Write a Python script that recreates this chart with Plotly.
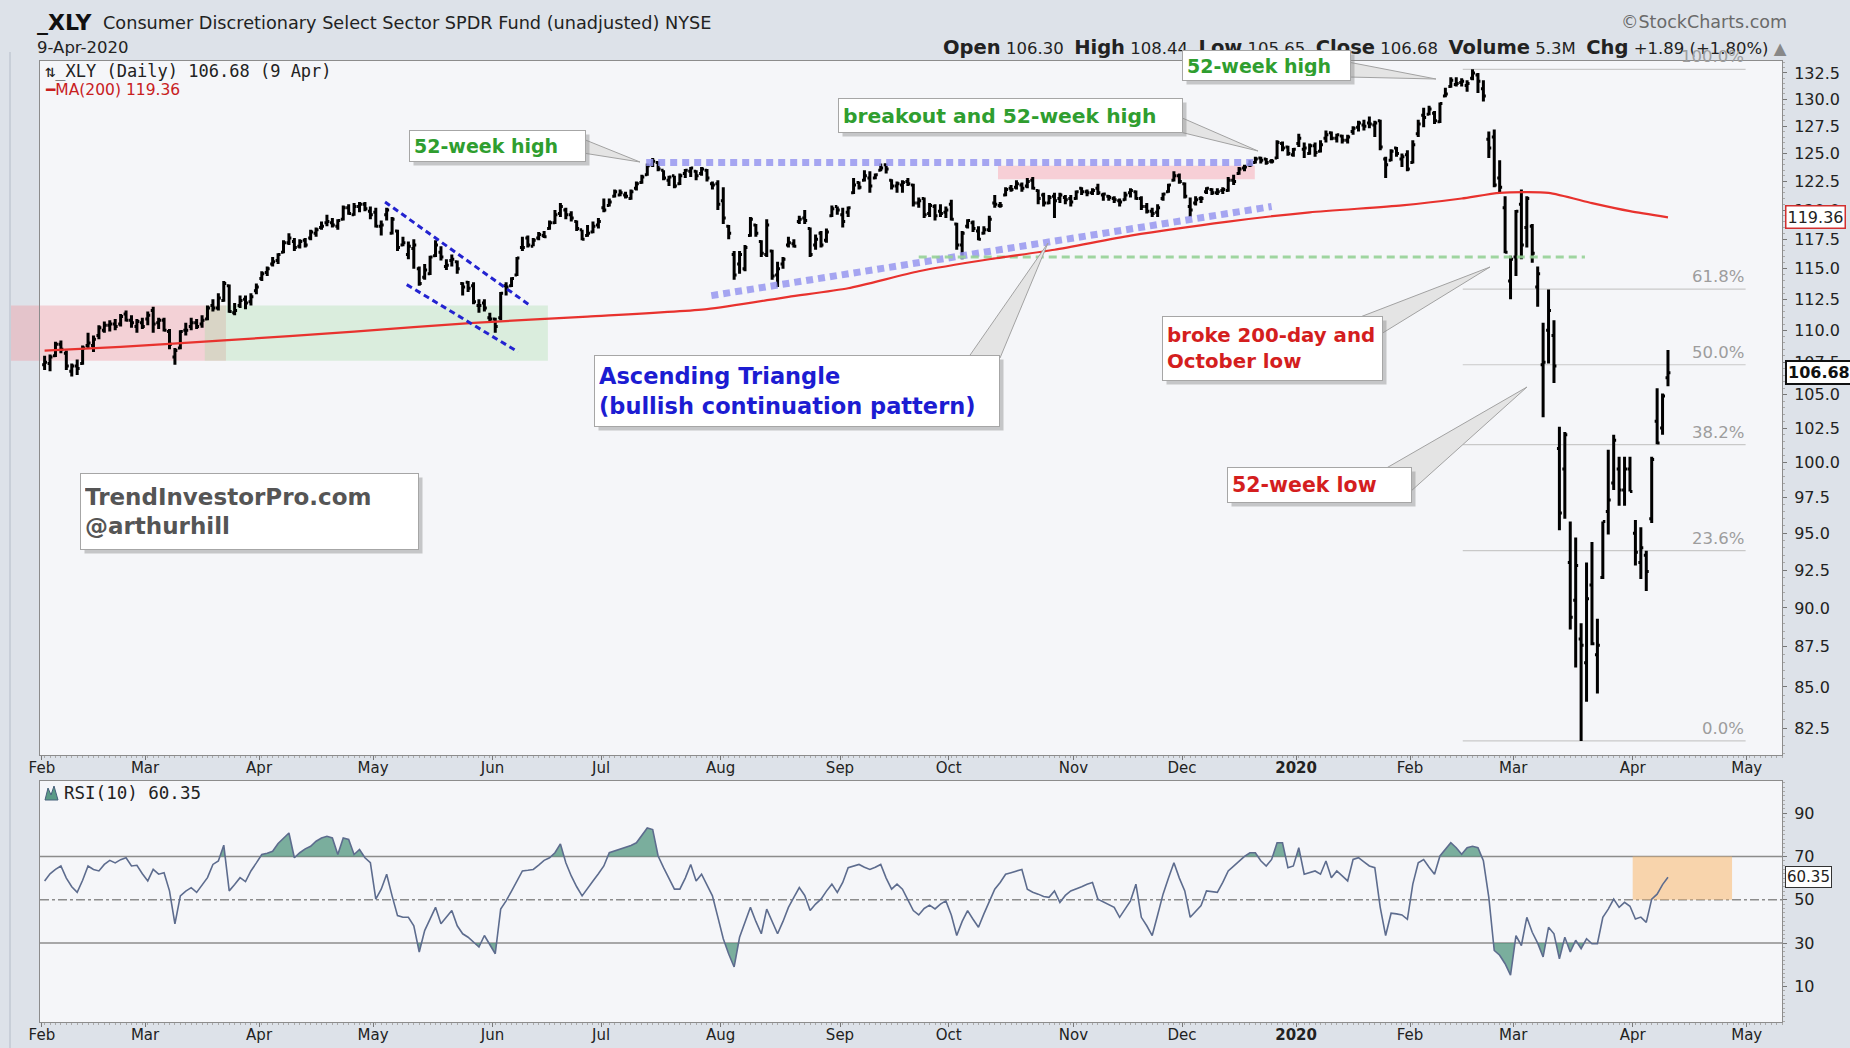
import math
import pandas as pd
import plotly.graph_objects as go

W, H = 1850, 1048

# ---------------- trading calendar (x categories) ----------------
holidays = ["2019-02-18", "2019-04-19", "2019-05-27", "2019-07-04", "2019-09-02",
            "2019-11-28", "2019-12-25", "2020-01-01", "2020-01-20", "2020-02-17",
            "2020-04-10", "2020-05-25"]
cal = pd.bdate_range("2019-02-01", "2020-05-29")
cal = cal[~cal.isin(pd.to_datetime(holidays))]

# ---------------- price data ----------------
opens = [
 107.3,107.4,108.0,108.9,108.2,106.8,107.2,107.4,108.8,108.8,109.6,110.0,110.4,110.5,110.5,111.3,110.8,110.3,110.6,
 110.9,111.6,110.6,110.8,109.9,107.9,108.6,110.0,110.3,110.6,110.5,110.9,112.0,111.8,112.4,113.6,111.4,112.0,112.5,112.3,113.2,
 114.2,114.7,115.4,115.7,116.4,117.2,117.3,116.9,117.4,117.6,118.0,118.5,118.9,118.9,118.6,119.2,120.2,119.6,120.3,120.5,119.9,
 119.8,118.6,119.6,118.0,118.2,117.0,116.2,116.7,115.0,114.3,114.6,116.1,116.4,115.2,115.7,115.6,113.8,113.9,113.6,112.0,112.2,111.0,
 110.9,111.0,113.6,113.6,114.5,116.8,117.6,116.9,117.6,117.8,118.4,118.9,119.7,120.0,119.6,119.0,118.3,117.8,118.1,118.7,
 120.2,120.4,121.2,121.3,121.3,121.0,121.9,122.4,123.1,124.0,124.2,123.5,122.6,123.0,122.3,123.2,123.4,123.4,123.2,123.5,122.3,122.3,
 120.8,118.6,116.2,115.4,115.0,117.8,118.7,117.3,116.2,116.5,114.5,115.4,117.0,117.1,119.0,119.3,118.4,117.0,118.0,117.4,119.5,120.3,
 119.6,119.8,121.5,122.4,122.6,122.8,122.8,123.5,124.0,122.6,122.1,122.2,122.5,122.2,120.6,121.0,119.7,120.3,119.9,119.8,
 120.5,118.8,117.0,118.6,118.9,118.2,118.0,118.3,120.6,120.4,121.3,121.9,122.0,122.2,122.1,122.6,121.7,121.3,120.6,121.2,121.0,121.1,121.0,
 121.0,121.9,121.6,121.5,121.9,121.3,121.2,121.0,120.8,120.9,121.5,121.6,121.0,120.3,119.9,119.8,121.0,121.6,122.6,123.0,
 122.3,120.3,120.6,121.0,121.6,121.8,121.5,121.7,121.7,122.6,123.2,123.7,124.0,124.2,124.6,124.5,124.3,124.6,125.9,125.6,124.9,
 125.9,125.4,125.0,125.7,125.2,126.4,126.9,126.4,126.6,126.2,127.0,127.4,127.6,127.8,127.6,128.0,124.5,124.4,125.5,124.5,124.9,
 124.2,126.8,128.5,128.6,128.7,127.9,130.3,131.2,131.4,131.6,131.3,132.0,132.3,131.0,126.3,126.5,122.8,120.2,114.0,
 116.0,120.5,118.5,118.6,113.5,107.3,110.0,109.6,101.0,99.5,93.0,90.5,88.0,86.5,91.5,87.0,92.0,96.5,98.5,99.5,98.0,99.5,
 95.0,93.0,93.5,96.0,103.0,102.5,106.30]
highs = [
 108.0,108.1,109.1,109.2,108.4,107.4,107.7,108.8,109.8,109.6,110.4,110.7,110.8,110.9,111.3,111.6,111.2,110.9,111.0,
 111.5,111.9,111.0,111.0,110.1,108.6,110.0,110.6,111.0,110.9,111.2,112.0,112.5,113.0,114.0,113.7,112.2,112.8,112.8,113.0,113.8,
 114.8,115.2,116.0,116.3,117.4,118.0,117.6,117.5,117.6,118.3,118.5,119.0,119.6,119.3,119.2,120.4,120.5,120.6,120.7,120.7,120.3,
 120.2,119.1,120.2,119.4,118.3,117.7,117.3,117.5,115.2,115.4,116.1,117.4,116.9,115.8,116.2,115.7,113.9,114.0,113.9,112.5,112.5,111.4,
 111.0,113.1,113.9,114.3,116.0,117.7,117.8,117.6,118.1,118.2,119.1,120.0,120.6,120.2,119.9,119.1,118.3,118.7,119.0,119.3,
 121.0,121.0,121.8,121.8,121.6,121.8,122.5,123.1,124.1,124.6,124.3,123.5,123.0,123.0,123.2,123.6,123.8,123.5,123.8,123.6,122.5,122.6,
 122.0,118.7,116.5,116.5,117.0,119.4,118.8,117.4,119.2,116.6,115.6,116.0,117.7,117.5,119.5,120.0,118.5,117.9,118.2,118.4,120.4,120.3,
 120.2,120.3,122.8,122.5,123.5,123.4,123.2,124.1,124.1,122.7,122.5,122.6,122.8,122.3,121.1,121.1,120.6,120.5,120.5,120.3,
 120.9,118.9,118.2,119.2,119.1,118.6,118.6,119.5,121.3,120.7,122.0,122.2,122.6,122.4,122.8,122.9,121.8,121.5,121.3,121.5,121.5,121.3,121.3,
 121.7,122.0,121.8,121.9,122.3,121.5,121.3,121.2,121.0,121.6,121.9,121.7,121.2,120.6,120.2,120.5,121.5,122.3,123.4,123.2,
 122.4,121.1,121.2,121.2,122.0,121.9,121.9,122.0,122.9,123.1,123.8,124.0,124.4,124.7,124.7,124.6,124.5,126.2,126.1,125.7,125.5,
 126.8,126.0,125.9,126.0,126.2,127.1,127.0,126.8,126.7,126.7,127.5,128.0,128.1,128.4,128.0,128.1,124.7,125.4,125.6,125.0,125.3,
 126.2,128.1,129.2,129.4,128.9,129.7,131.1,132.1,132.1,132.0,131.8,132.85,132.5,131.8,127.0,127.2,124.4,121.2,116.1,
 120.0,121.8,121.2,118.8,115.2,110.6,113.3,110.8,102.6,102.2,95.8,94.7,89.0,93.0,94.4,89.3,95.8,100.9,102.0,100.4,100.4,100.4,
 95.9,95.4,93.8,100.4,105.5,105.1,108.44]
lows = [
 106.9,106.8,107.9,108.2,106.9,106.4,106.5,107.3,108.6,108.3,109.3,109.8,109.9,110.0,110.3,110.7,110.2,109.8,110.1,
 110.4,109.8,110.1,109.9,108.5,107.3,108.5,109.6,110.0,110.1,110.2,110.8,111.5,111.6,112.3,111.4,111.2,111.8,111.7,112.0,112.9,
 114.0,114.4,115.2,115.4,116.3,117.0,116.5,116.7,116.8,117.4,117.7,118.3,118.6,118.5,118.3,119.1,119.6,119.5,119.8,119.9,119.2,
 118.5,117.8,119.1,117.9,116.5,116.9,115.8,115.0,113.6,114.1,114.5,116.0,115.7,114.9,115.2,114.6,112.8,113.1,112.1,111.4,111.5,110.7,
 109.8,110.8,112.8,113.5,114.4,116.5,116.8,116.9,117.4,117.6,118.3,118.8,119.4,119.2,119.0,118.2,117.4,117.7,118.0,118.4,
 119.8,120.3,121.1,121.2,121.0,120.9,121.7,122.3,123.0,123.8,123.4,122.6,122.1,121.9,122.2,122.8,122.9,122.6,123.0,122.5,121.8,120.0,
 118.8,117.5,114.1,114.6,114.8,117.7,117.7,116.0,116.0,114.1,113.5,115.0,116.8,116.8,118.8,118.8,116.0,116.6,116.8,117.2,119.4,119.6,
 118.5,119.4,121.4,121.8,122.5,121.5,122.7,123.4,123.2,121.8,121.5,121.5,122.1,120.3,120.2,119.3,119.4,119.1,119.4,119.3,
 119.1,116.6,115.8,118.4,118.1,117.4,117.9,118.1,120.2,120.2,121.2,121.6,121.8,121.6,121.9,121.8,120.5,120.3,120.5,119.3,120.6,120.5,120.3,
 120.9,121.3,121.2,121.3,121.3,120.8,120.8,120.6,120.3,120.8,121.1,120.9,120.0,119.7,119.4,119.4,120.8,121.5,122.5,122.3,
 121.0,119.4,120.4,120.6,121.4,121.3,121.3,121.4,121.6,122.2,123.1,123.4,123.8,124.1,124.1,124.0,124.1,124.5,125.2,124.8,124.7,
 125.6,124.6,124.9,124.7,125.1,126.0,126.2,126.0,125.9,125.9,126.7,127.0,127.1,127.3,126.5,125.3,122.8,124.3,124.7,123.8,123.4,
 124.1,126.5,127.4,128.5,127.7,127.8,130.2,131.1,131.2,131.2,130.7,131.8,130.6,129.8,124.6,122.0,121.5,116.3,112.5,
 114.4,115.8,116.8,115.5,111.9,103.3,107.4,105.9,95.2,96.0,88.6,86.2,81.75,84.1,87.6,84.6,91.9,94.9,98.0,96.9,96.9,97.9,
 92.8,91.9,91.1,95.7,101.3,102.0,105.65]
closes = [
 107.5,107.9,108.9,108.5,107.2,107.2,107.0,108.6,109.0,109.3,110.2,110.4,110.5,110.3,111.1,110.8,110.6,110.7,110.3,
 111.2,110.5,110.8,110.0,108.9,108.4,109.9,110.0,110.6,110.3,110.8,111.8,111.8,112.6,113.8,111.5,111.6,112.4,112.2,112.7,113.5,
 114.6,115.0,115.6,116.2,117.2,117.6,116.8,117.3,117.0,118.1,118.3,118.6,119.0,118.7,119.1,120.2,119.7,120.3,120.5,120.1,119.6,
 118.6,118.7,120.0,119.2,116.8,117.2,116.9,117.0,113.8,114.9,116.0,117.0,116.0,115.3,115.8,115.0,113.5,113.4,112.3,112.0,111.8,110.9,
 110.3,113.0,113.5,114.2,115.9,116.8,117.0,117.4,117.9,117.7,118.9,119.6,120.3,119.6,119.3,118.4,117.5,118.0,118.6,119.0,
 120.0,120.7,121.6,121.5,121.2,121.6,122.3,122.9,123.9,124.3,123.6,122.8,122.9,122.1,123.0,123.5,123.7,123.0,123.6,122.8,122.2,120.5,
 119.3,118.0,114.5,116.2,116.8,119.2,118.0,116.3,118.7,114.4,115.0,115.8,117.2,116.9,119.2,119.1,116.2,117.5,117.0,118.1,120.1,120.0,
 119.0,120.2,122.2,122.0,123.0,122.1,123.1,123.7,123.6,122.1,122.3,122.4,122.3,120.6,120.8,119.6,120.4,119.5,119.7,120.0,
 119.2,117.0,118.0,119.1,118.4,117.5,118.3,119.2,120.5,120.4,121.8,121.8,122.3,121.9,122.5,121.9,121.0,120.6,121.1,120.8,121.3,120.9,120.7,
 121.6,121.6,121.5,121.7,121.5,121.4,121.1,120.9,120.7,121.3,121.7,121.0,120.3,119.9,119.7,120.2,121.4,122.2,123.0,122.5,
 121.2,120.0,120.9,121.0,121.9,121.5,121.6,121.8,122.6,122.5,123.6,123.8,124.0,124.5,124.4,124.2,124.3,126.0,125.5,125.0,125.4,
 126.4,125.5,125.7,125.1,125.8,126.7,126.4,126.7,126.2,126.5,127.3,127.8,127.5,127.7,127.8,125.6,124.0,125.2,125.0,124.7,123.6,
 125.8,127.7,128.3,129.1,128.0,129.6,130.5,131.8,131.5,131.7,131.5,132.5,131.7,130.3,125.5,122.2,122.0,116.4,115.8,
 119.9,117.0,121.0,116.3,114.6,107.5,111.6,107.2,96.4,102.0,89.4,92.8,87.6,90.6,87.7,87.6,95.8,97.3,101.6,98.0,99.5,97.9,
 93.7,94.0,92.4,100.2,101.4,104.9,106.68]

# 200-day moving average, read at selected bars
ma_idx = [0, 14, 33, 57, 79, 100, 122, 137, 148, 161, 174, 186, 200, 218, 233, 250, 261, 268, 277, 285, 292, 299]
ma_val = [108.4, 108.7, 109.2, 109.9, 110.6, 111.1, 111.7, 112.7, 113.4, 114.8, 115.8, 116.6,
          117.8, 119.0, 119.8, 120.4, 121.0, 121.5, 121.5, 120.6, 119.9, 119.36]

# RSI(10), one value per bar
rsi = [
 58.7,62,64,65.6,60,56,53.4,59,65.6,64, 63.3,66.3,68.2,67,68.5,69.4,65.6,65.9,62,58.7,
 64,61.8,62.5,54.1,38.9,51.8,54,55.6,53.4,57, 60.2,66.3,67.9,75.2,54.1,57,60.2,58.4,63.3,67,
 70.9,71.5,72.4,76,78.5,80.8,69.4,71.7,73.5,74.7, 77,78.5,79.3,78.5,70.9,78.5,77.8,70.9,73.2,69.4,
 67.1,50.3,54.9,61.8,51.8,42.7,41.9,41.9,38,25.9, 35.8,41,46.5,38.9,42,45,38,34.3,32.7,30.5,
 28.2,33.5,29,25.1,45.7,49.5,54,58.7,63.3,63.6, 64,66,68.2,69.4,71.7,75.8,67.1,61,56,51.8,
 55,58.7,62,65.6,71.7,72.5,73.3,74,75,76.3, 80,83.1,82.4,70.2,64.8,60,54.9,54.9,60,66.3,
 58.7,61.8,57,51.8,42,32,25,19,32.7,40, 46.5,40,34.3,45.7,40,34.3,40,46.5,51.1,55.6,
 52,45,48,50.3,54,57.2,53.4,58,64.8,65.5, 66.3,65,64,65,66.3,60,54.9,57.2,54.9,50,
 45,43,46,47.5,45.8,48,49.5,43,33.5,40, 45,41,37.3,43.5,49,54.9,58,61.8,62.5,63.3,
 64,54.9,53.5,52.6,51.5,51.1,54.1,48.8,52,54.1, 54.9,56,57.2,58,50.3,49,48,46.5,41.9,46,
 49.5,57.2,41.9,38,33.5,43,52.6,60,67.1,60, 54.1,41.9,44.5,47.3,54.1,53.7,53.4,58,63.3,65.5,
 67.9,70,71.7,71.7,68,65.6,68.6,76.3,76.3,64.8, 65.6,74,61.8,62.5,63.3,61.8,67.9,60.2,63.3,61,
 58.7,68.6,69.4,67.5,65.6,64.8,46.5,33.5,43.8,43.5, 43,41,57.2,67.1,68.6,65,61.8,70.2,73,76.3,
 74,71,74,74.7,74,68,51.1,26.6,24.4,20.5, 15.2,33.5,28.9,41.9,35,30,23.6,37.3,34.3,22.8,
 32.7,25.9,31.3,27.4,32,29.7,29.7,41.9,45.7,50.3, 46.5,48.8,47,41.1,42,39.6,50.3,52.6,57,60.35]

fib_high, fib_low = 132.85, 81.75
fib_pcts = [0.0, 23.6, 38.2, 50.0, 61.8, 100.0]

price_ticks = [82.5, 85.0, 87.5, 90.0, 92.5, 95.0, 97.5, 100.0, 102.5, 105.0, 107.5, 110.0,
               112.5, 115.0, 117.5, 120.0, 122.5, 125.0, 127.5, 130.0, 132.5]
rsi_ticks = [10, 30, 50, 70, 90]

n = len(closes)
idx = list(range(n))

# month ticks at month boundaries
tickvals, ticktext = [], []
prev = None
for k, d in enumerate(cal):
    key = (d.year, d.month)
    if key != prev:
        tickvals.append(k - 0.5)
        ticktext.append("<b>2020</b>" if (d.year == 2020 and d.month == 1) else d.strftime("%b"))
        prev = key

XR = [-0.85, 320.0]
XD = [40 / W, 1782 / W]
YD1 = [1 - 755 / H, 1 - 61 / H]
YD2 = [1 - 1022 / H, 1 - 781 / H]


def px(x):
    return x / W


def py(y):
    return 1 - y / H


FONT = "DejaVu Sans"
MONO = "DejaVu Sans Mono"
fig = go.Figure()

# ---------------- zones (shapes) ----------------
shapes = []
zone_lo, zone_hi = 107.6, 112.0
shapes.append(dict(type="rect", xref="x", yref="y", x0=XR[0], x1=33.4, y0=zone_lo, y1=zone_hi,
                   fillcolor="rgba(240,140,150,0.35)", line_width=0, layer="below"))
shapes.append(dict(type="rect", xref="paper", yref="y", x0=px(11), x1=px(40), y0=zone_lo, y1=zone_hi,
                   fillcolor="rgba(240,140,150,0.35)", line_width=0, layer="below"))
shapes.append(dict(type="rect", xref="x", yref="y", x0=29.5, x1=92.7, y0=zone_lo, y1=zone_hi,
                   fillcolor="rgba(170,220,170,0.35)", line_width=0, layer="below"))
shapes.append(dict(type="rect", xref="x", yref="y", x0=175.6, x1=222.9, y0=122.7, y1=123.9,
                   fillcolor="rgba(250,160,170,0.45)", line_width=0, layer="below"))
# fib lines
for p in fib_pcts:
    lvl = fib_low + p / 100 * (fib_high - fib_low)
    shapes.append(dict(type="line", xref="x", yref="y", x0=261.2, x1=313.3, y0=lvl, y1=lvl,
                       line=dict(color="#c9c9c9", width=1.2), layer="below"))
# RSI reference lines
for v, dash in [(70, "solid"), (30, "solid"), (50, "dashdot")]:
    shapes.append(dict(type="line", xref="x2", yref="y2", x0=XR[0], x1=XR[1], y0=v, y1=v,
                       line=dict(color="#8c8c8c", width=1.5, dash=dash), layer="below"))
# orange RSI box
shapes.append(dict(type="rect", xref="x2", yref="y2", x0=292.5, x1=310.8, y0=50, y1=70,
                   fillcolor="rgba(250,190,120,0.6)", line_width=0, layer="below"))
# left panel strip line
shapes.append(dict(type="line", xref="paper", yref="paper", x0=px(10), x1=px(10), y0=0, y1=py(52),
                   line=dict(color="#b4bcc8", width=1)))

# ---------------- traces ----------------
lavender = "rgba(150,150,240,0.85)"
fig.add_trace(go.Scatter(x=[110.8, 223], y=[124.2, 124.2], mode="lines",
                         line=dict(color=lavender, width=7, dash="7px,5px"), hoverinfo="skip"))
fig.add_trace(go.Scatter(x=[122.8, 226], y=[112.8, 120.3], mode="lines",
                         line=dict(color=lavender, width=7, dash="7px,5px"), hoverinfo="skip"))
fig.add_trace(go.Scatter(x=[161, 283.7], y=[116.0, 116.0], mode="lines",
                         line=dict(color="rgba(150,210,150,0.9)", width=3, dash="8px,5px"), hoverinfo="skip"))
fig.add_trace(go.Scatter(x=ma_idx, y=ma_val, mode="lines", line_shape="spline",
                         line=dict(color="#e8322e", width=2.2, smoothing=0.6), hoverinfo="skip"))
fig.add_trace(go.Scatter(x=[62.7, 89.4], y=[120.7, 112.0], mode="lines",
                         line=dict(color="#2323d0", width=3, dash="6px,4px"), hoverinfo="skip"))
fig.add_trace(go.Scatter(x=[66.7, 87.2], y=[113.7, 108.3], mode="lines",
                         line=dict(color="#2323d0", width=3, dash="6px,4px"), hoverinfo="skip"))

fig.add_trace(go.Ohlc(x=idx, open=opens, high=highs, low=lows, close=closes,
                      increasing_line_color="black", decreasing_line_color="black",
                      line=dict(width=3), tickwidth=0.45, hoverinfo="skip",
                      xaxis="x", yaxis="y"))


# RSI fills
def band_polys(xs, ys, thr, above=True):
    ox, oy = [], []
    cx, cy = [], []

    def inside(v):
        return v > thr if above else v < thr

    for k in range(len(xs)):
        x, y = xs[k], ys[k]
        if k > 0:
            x0, y0 = xs[k - 1], ys[k - 1]
            if inside(y0) != inside(y):
                t = (thr - y0) / (y - y0)
                xc = x0 + t * (x - x0)
                cx.append(xc)
                cy.append(thr)
                if not inside(y):
                    ox += cx + [None]
                    oy += cy + [None]
                    cx, cy = [], []
        if inside(y):
            if k == 0:
                cx.append(x)
                cy.append(thr)
            cx.append(x)
            cy.append(y)
    if cx:
        cx.append(xs[-1])
        cy.append(thr)
        ox += cx
        oy += cy
    return ox, oy


for thr, ab in [(70, True), (30, False)]:
    fx, fy = band_polys(idx, rsi, thr, ab)
    fig.add_trace(go.Scatter(x=fx, y=fy, mode="lines", fill="toself",
                             fillcolor="rgba(80,150,125,0.75)", line=dict(width=0),
                             hoverinfo="skip", xaxis="x2", yaxis="y2"))
fig.add_trace(go.Scatter(x=idx, y=rsi, mode="lines", line=dict(color="#5d6c8e", width=1.6),
                         hoverinfo="skip", xaxis="x2", yaxis="y2"))

# ---------------- annotations ----------------
ann = []


def text(x, y, s, size=14, color="#222", xanchor="left", yanchor="middle", family=FONT, **kw):
    d = dict(x=px(x), y=py(y), xref="paper", yref="paper", text=s, showarrow=False,
             xanchor=xanchor, yanchor=yanchor, font=dict(size=size, color=color, family=family))
    d.update(kw)
    ann.append(d)


text(35, 23, "<b>_XLY</b>", size=22, color="#111")
text(101, 23, "Consumer Discretionary Select Sector SPDR Fund (unadjusted) NYSE", size=17.7, color="#222")
text(35, 47, "9-Apr-2020", size=16.5, color="#222")
text(1789, 22, "©StockCharts.com", size=17.5, color="#6a6a6a", xanchor="right")
L = '<span style="font-size:19.5px"><b>%s</b></span>'
hdr = (L % "Open" + " 106.30  " + L % "High" + " 108.44  " + L % "Low" + " 105.65  " +
       L % "Close" + " 106.68  " + L % "Volume" + " 5.3M  " + L % "Chg" +
       ' +1.89 (+1.80%) <span style="color:#888">▲</span>')
text(1789, 47, hdr, size=16.5, color="#222", xanchor="right")

text(43, 71, "⇅_XLY (Daily) 106.68 (9 Apr)", size=17, color="#222", family=MONO)
text(43, 90, '<b>━</b>MA(200) 119.36', size=15.5, color="#c8201e")
text(62, 793, "RSI(10) 60.35", size=17.5, color="#222", family=MONO)
shapes.append(dict(type="path", xref="paper", yref="paper",
                   path=f"M {px(45)} {py(800)} L {px(48)} {py(788)} L {px(51)} {py(795)} L {px(54)} {py(786)} L {px(58)} {py(800)} Z",
                   fillcolor="#5a9a86", line=dict(color="#46607a", width=1)))

# fib labels
for p in fib_pcts:
    lvl = fib_low + p / 100 * (fib_high - fib_low)
    ann.append(dict(x=313.3, y=math.log10(lvl), xref="x", yref="y", text=f"{p:.1f}%", showarrow=False,
                    xanchor="right", yanchor="bottom", yshift=1,
                    font=dict(size=16.5, color="#9d9d9d", family=FONT)))

# callouts
wedges = [
    [(583, 139), (583, 153), (640, 162)],
    [(1180, 117), (1180, 132), (1258, 151)],
    [(1348, 62), (1348, 77), (1436, 79)],
    [(968, 358), (1000, 358), (1048, 243)],
    [(1355, 319), (1381, 334), (1490, 267)],
    [(1383, 470), (1410, 492), (1527, 387)],
]
for wpts in wedges:
    path = "M " + " L ".join(f"{px(a)} {py(b)}" for a, b in wpts) + " Z"
    shapes.append(dict(type="path", xref="paper", yref="paper", path=path,
                       fillcolor="#e4e4e4", line=dict(color="#a2a2a2", width=1), layer="above"))

boxes = [
    (409, 130, 586, 162, "<b>52-week high</b>", "#2f9e2f", 19),
    (838, 98, 1183, 133, "<b>breakout and 52-week high</b>", "#2f9e2f", 20.3),
    (1182, 50, 1351, 81, "<b>52-week high</b>", "#2f9e2f", 19),
    (594, 355, 1000, 427, "<b>Ascending Triangle<br>(bullish continuation pattern)</b>", "#1c1cd2", 22.5),
    (1162, 316, 1383, 381, "<b>broke 200-day and<br>October low</b>", "#d41e1e", 19.8),
    (1227, 467, 1412, 503, "<b>52-week low</b>", "#d41e1e", 20.5),
    (80, 473, 419, 550, "<b>TrendInvestorPro.com<br>@arthurhill</b>", "#555555", 23),
]
for x0, y0, x1, y1, s, c, fs in boxes:
    ann.append(dict(x=px(x0 + 4), y=py(y0 + 4), xref="paper", yref="paper", text=" ", showarrow=False,
                    xanchor="left", yanchor="top", width=x1 - x0 - 10, height=y1 - y0 - 10,
                    bgcolor="rgba(140,140,140,0.45)", borderpad=4, borderwidth=1,
                    bordercolor="rgba(0,0,0,0)"))
    ann.append(dict(x=px(x0), y=py(y0), xref="paper", yref="paper", text=s, showarrow=False,
                    xanchor="left", yanchor="top", width=x1 - x0 - 10, height=y1 - y0 - 10,
                    align="left", valign="middle", bgcolor="white", bordercolor="#a6a6a6",
                    borderwidth=1, borderpad=4, font=dict(size=fs, color=c, family=FONT)))

# value boxes
ann.append(dict(x=px(1785), y=math.log10(119.36), xref="paper", yref="y", text="119.36", showarrow=False,
                xanchor="left", yanchor="middle", bgcolor="white", bordercolor="#d23030", borderwidth=1.5,
                borderpad=1, font=dict(size=16, color="#222", family=FONT)))
ann.append(dict(x=px(1785), y=math.log10(106.68), xref="paper", yref="y", text="<b>106.68</b>", showarrow=False,
                xanchor="left", yanchor="middle", bgcolor="white", bordercolor="#111", borderwidth=2,
                borderpad=1, font=dict(size=16, color="#111", family=FONT)))
ann.append(dict(x=px(1785), y=60.35, xref="paper", yref="y2", text="60.35", showarrow=False,
                xanchor="left", yanchor="middle", bgcolor="white", bordercolor="#333", borderwidth=1,
                borderpad=1, font=dict(size=15, color="#222", family=FONT)))

# ---------------- layout ----------------
axis_font = dict(family=FONT, size=15, color="#222")
xcommon = dict(range=XR, domain=XD, tickmode="array", tickvals=tickvals, ticktext=ticktext,
               ticks="outside", ticklen=4, tickcolor="#777", showline=True, mirror=True,
               linecolor="#8c8c8c", linewidth=1, showgrid=False, zeroline=False, tickfont=axis_font,
               automargin=False, ticklabelstandoff=-5,
               minor=dict(tickmode="linear", tick0=0, dtick=1, ticks="outside", ticklen=2, tickcolor="#aaa"))
ycommon = dict(side="right", ticks="outside", ticklen=4, tickcolor="#777", showline=True, mirror=True,
               linecolor="#8c8c8c", showgrid=False, zeroline=False, automargin=False,
               ticklabelstandoff=4, tickfont=dict(family=FONT, size=16, color="#222"))

fig.update_layout(
    width=W, height=H, margin=dict(l=0, r=0, t=0, b=0, autoexpand=False),
    paper_bgcolor="#dde2e9", plot_bgcolor="#f5f6f9",
    showlegend=False, font=dict(family=FONT),
    xaxis=dict(anchor="y", rangeslider=dict(visible=False), **xcommon),
    yaxis=dict(type="log", domain=YD1, range=[math.log10(80.92), math.log10(133.65)],
               tickmode="array", tickvals=price_ticks, ticktext=[f"{v:.1f}" for v in price_ticks],
               minor=dict(tickmode="array", tickvals=[81 + 0.5 * k for k in range(106)], ticks="outside",
                          ticklen=2, tickcolor="#aaa"), **ycommon),
    xaxis2=dict(anchor="y2", matches="x", **xcommon),
    yaxis2=dict(domain=YD2, range=[-6.4, 104.8], tickmode="array", tickvals=rsi_ticks,
                minor=dict(tickmode="linear", tick0=0, dtick=2, ticks="outside", ticklen=2, tickcolor="#aaa"),
                **ycommon),
    shapes=shapes, annotations=ann,
)

fig.write_html("out.html", config={"displayModeBar": False},
               post_script="document.body.style.margin='0';document.body.style.overflow='hidden';")
